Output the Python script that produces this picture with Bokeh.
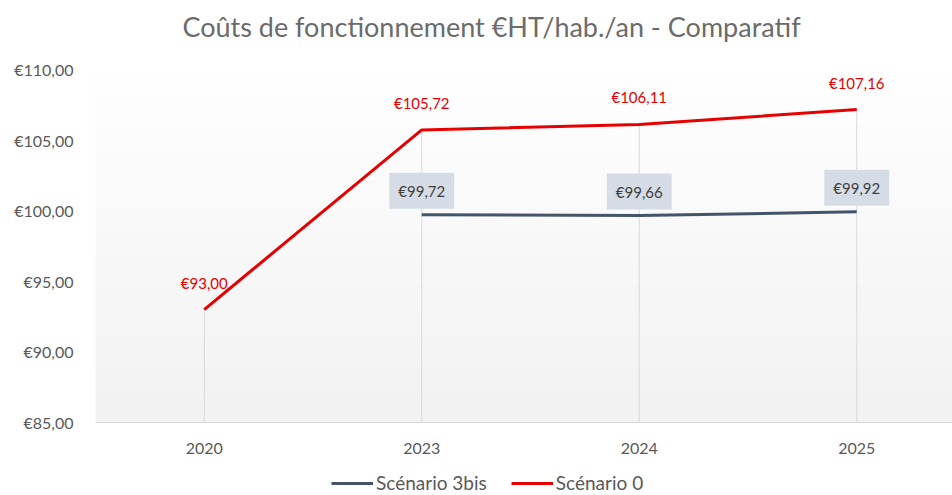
import numpy as np
from bokeh.plotting import figure
from bokeh.models import Range1d, FixedTicker, Legend, LegendItem, Span
from bokeh.core.properties import value
from bokeh.embed import file_html
from bokeh.resources import INLINE

# ---- data ----
years = ["2020", "2023", "2024", "2025"]
scenario_0 = [93.00, 105.72, 106.11, 107.16]
scenario_3bis = [None, 99.72, 99.66, 99.92]
y_ticks = [85, 90, 95, 100, 105, 110]
title_text = "Coûts de fonctionnement €HT/hab./an - Comparatif"
legend_labels = ["Scénario 3bis", "Scénario 0"]


def eur(v):
    return "€" + f"{v:.2f}".replace(".", ",")


FONT = "Lato"
RED = "#e60000"
BLUE = "#44546a"
GREY_TXT = "#595959"

# ---- layout (pixels) ----
W, H = 952, 495
LEFT = 95              # frame left edge
PLOT_TOP = 69          # pixel row of the top tick
PLOT_BOTTOM = 422      # pixel row of the bottom tick / x axis line
CAT_STEP = 217.5       # pixels between categories

x = list(range(len(years)))
s0 = np.array(scenario_0, dtype=float)
s3 = np.array([np.nan if v is None else v for v in scenario_3bis], dtype=float)
tops = np.nanmax(np.vstack([s0, s3]), axis=0)

y_min, y_max = y_ticks[0], y_ticks[-1]
ppu = (PLOT_BOTTOM - PLOT_TOP) / (y_max - y_min)
y_lo = y_min - (H - PLOT_BOTTOM) / ppu
y_hi = y_min + PLOT_BOTTOM / ppu
x_start = -0.5
x_end = x_start + (W - LEFT) / CAT_STEP

p = figure(width=W, height=H,
           x_range=Range1d(x_start, x_end), y_range=Range1d(y_lo, y_hi),
           output_backend="svg", toolbar_location=None,
           min_border_left=LEFT, min_border_right=0,
           min_border_top=0, min_border_bottom=0)

p.outline_line_color = None
p.xgrid.visible = False
p.ygrid.visible = False
p.background_fill_color = "white"
p.border_fill_color = "white"
p.xaxis.visible = False

# gradient backdrop of plot area
n = 64
img = np.empty((n, 1), dtype=np.uint32)
view = img.view(dtype=np.uint8).reshape((n, 1, 4))
g = np.linspace(242, 255, n).astype(np.uint8)
view[:, 0, 0] = g
view[:, 0, 1] = g
view[:, 0, 2] = g
view[:, 0, 3] = 255
p.image_rgba(image=[img], x=x_start, y=y_min, dw=x_end - x_start, dh=y_max - y_min)

# x axis line
p.add_layout(Span(location=y_min, dimension="width", line_color="#d9d9d9", line_width=1))

# drop lines
p.segment(x0=x, y0=[y_min] * len(x), x1=x, y1=tops, line_color="#d9d9d9", line_width=1)

# series
r3 = p.line(x, s3, line_color=BLUE, line_width=3)
r0 = p.line(x, s0, line_color=RED, line_width=3)

# data labels
p.text(x=x, y=s0, text=[eur(v) for v in scenario_0], y_offset=-27,
       text_align="center", text_baseline="middle",
       text_font=value(FONT), text_font_size="15px", text_color=RED)

xi = [xx for xx, v in zip(x, scenario_3bis) if v is not None]
yi = [v for v in scenario_3bis if v is not None]
p.text(x=xi, y=yi, text=[eur(v) for v in yi], y_offset=-24,
       text_align="center", text_baseline="middle",
       text_font=value(FONT), text_font_size="15px", text_color="#404040",
       background_fill_color="#d6dce5", padding=9)

# category labels (x axis)
p.text(x=x, y=[y_min] * len(x), text=years, y_offset=26,
       text_align="center", text_baseline="middle",
       text_font=value(FONT), text_font_size="16px", text_color=GREY_TXT)

# title
title_cx = x_start + (491 - LEFT) / CAT_STEP
p.text(x=[title_cx], y=[y_hi], text=[title_text], y_offset=26,
       text_align="center", text_baseline="middle",
       text_font=value(FONT), text_font_size="27px", text_color="#6b6b6b")

# y axis
p.yaxis.ticker = FixedTicker(ticks=y_ticks)
p.yaxis.major_label_overrides = {t: eur(t) for t in y_ticks}
p.yaxis.axis_line_color = None
p.yaxis.major_tick_line_color = None
p.yaxis.minor_tick_line_color = None
p.yaxis.major_tick_out = 0
p.yaxis.major_tick_in = 0
p.yaxis.major_label_standoff = 22
p.yaxis.major_label_text_font = FONT
p.yaxis.major_label_text_font_size = "16px"
p.yaxis.major_label_text_color = GREY_TXT

legend = Legend(items=[LegendItem(label=legend_labels[0], renderers=[r3]),
                       LegendItem(label=legend_labels[1], renderers=[r0])],
                orientation="horizontal", location=(236, 1),
                border_line_color=None, background_fill_alpha=0,
                label_text_font=FONT, label_text_font_size="19px",
                label_text_color=GREY_TXT, glyph_width=42, glyph_height=20,
                label_height=20, label_standoff=3,
                spacing=24, padding=0, margin=0)
p.add_layout(legend)

open("out.html", "w").write(file_html(p, INLINE))
